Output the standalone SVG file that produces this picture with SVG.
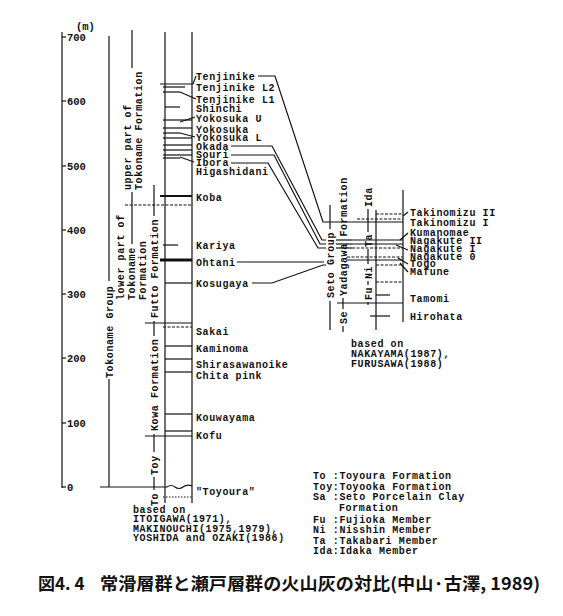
<svg xmlns="http://www.w3.org/2000/svg" width="563" height="616" viewBox="0 0 563 616">
<style>
.t{font-family:"Liberation Mono",monospace;font-size:10px;letter-spacing:0.6px;font-weight:bold;fill:#111}
.r{font-family:"Liberation Mono",monospace;font-size:10px;letter-spacing:0.6px;font-weight:bold;fill:#111}
.ax{font-family:"Liberation Mono",monospace;font-size:10.5px;font-weight:bold;fill:#111}
.l{stroke:#111;stroke-width:1.2;fill:none}
.th{stroke:#111;stroke-width:2;fill:none}
.d{stroke:#111;stroke-width:1.2;fill:none;stroke-dasharray:3 1.5}
.cap{font-family:"Noto Sans CJK JP","Noto Sans",sans-serif;font-size:17px;font-weight:bold;fill:#111}
</style>
<rect width="563" height="616" fill="#fff"/>

<g id="axis">
<line class="l" x1="62" y1="32" x2="62" y2="488"/>
<g class="l">
<line x1="62" y1="37" x2="66" y2="37"/><line x1="62" y1="101" x2="66" y2="101"/>
<line x1="62" y1="166" x2="66" y2="166"/><line x1="62" y1="230" x2="66" y2="230"/>
<line x1="62" y1="294" x2="66" y2="294"/><line x1="62" y1="358" x2="66" y2="358"/>
<line x1="62" y1="423" x2="66" y2="423"/><line x1="62" y1="487" x2="66" y2="487"/>
</g>
<text class="ax" x="76" y="30">(m)</text>
<text class="ax" x="67" y="41">700</text><text class="ax" x="67" y="105">600</text>
<text class="ax" x="67" y="170">500</text><text class="ax" x="67" y="234">400</text>
<text class="ax" x="67" y="298">300</text><text class="ax" x="67" y="362">200</text>
<text class="ax" x="67" y="427">100</text><text class="ax" x="67" y="491">0</text>
</g>

<g id="left-column">
<line class="l" x1="165" y1="32" x2="165" y2="503"/>
<line class="l" x1="192" y1="32" x2="192" y2="503"/>
<g class="l">
<line x1="160" y1="84" x2="193" y2="84"/>
<line x1="163" y1="87" x2="185" y2="87"/>
<line x1="163" y1="92" x2="180" y2="92"/>
<line x1="165" y1="107" x2="180" y2="107"/>
<line x1="163" y1="120" x2="192" y2="120"/>
<line x1="163" y1="128" x2="192" y2="128"/>
<line x1="163" y1="133" x2="180" y2="133"/>
<line x1="163" y1="138" x2="192" y2="138"/>
<line x1="163" y1="145" x2="192" y2="145"/>
<line x1="163" y1="150" x2="192" y2="150"/>
<line x1="163" y1="155" x2="192" y2="155"/>
<line x1="163" y1="158" x2="180" y2="158"/>
<line x1="163" y1="245" x2="178" y2="245"/>
<line x1="165" y1="283" x2="192" y2="283"/>
<line x1="165" y1="346" x2="192" y2="346"/>
<line x1="165" y1="359" x2="192" y2="359"/>
<line x1="165" y1="372" x2="192" y2="372"/>
<line x1="165" y1="414" x2="192" y2="414"/>
<line x1="165" y1="431" x2="192" y2="431"/>
<line x1="145" y1="323" x2="192" y2="323"/>
<line x1="145" y1="436" x2="192" y2="436"/>
<line x1="100" y1="487" x2="167" y2="487"/>
<path d="M167 487 q4 -3 8 0 t8 0 t9 -1"/>
</g>
<line class="th" x1="160" y1="196" x2="192" y2="196"/>
<line x1="160" y1="260" x2="192" y2="260" stroke="#111" stroke-width="3"/>
<line class="d" x1="125" y1="205" x2="192" y2="205"/>
<line class="d" x1="163" y1="327" x2="192" y2="327"/>
<line x1="163" y1="497" x2="192" y2="497" stroke="#111" stroke-width="1.2" stroke-dasharray="1.5 1.5"/>
</g>

<g id="formation-labels-left">
<g class="l">
<line x1="109" y1="36" x2="109" y2="281"/>
<line x1="109" y1="379" x2="109" y2="487"/>
<line x1="132" y1="30" x2="132" y2="68"/>
<line x1="132" y1="192" x2="132" y2="244"/>
<line x1="154" y1="185" x2="154" y2="216"/>
<line x1="154" y1="321" x2="154" y2="336"/>
<line x1="154" y1="434" x2="154" y2="452"/>
<line x1="154" y1="477" x2="154" y2="490"/>
</g>
<text class="r" transform="translate(113,378) rotate(-90)">Tokoname Group</text>
<text class="r" transform="translate(131,190) rotate(-90)">upper part of</text>
<text class="r" transform="translate(142,190) rotate(-90)">Tokoname Formation</text>
<text class="r" transform="translate(124,300) rotate(-90)">lower part of</text>
<text class="r" transform="translate(135,300) rotate(-90)">Tokoname</text>
<text class="r" transform="translate(146,300) rotate(-90)">Formation</text>
<text class="r" transform="translate(158,318) rotate(-90)">Futto Formation</text>
<text class="r" transform="translate(158,431) rotate(-90)">Kowa Formation</text>
<text class="r" transform="translate(158,475) rotate(-90)">Toy</text>
<text class="r" transform="translate(158,506) rotate(-90)">To</text>
</g>

<g id="left-labels">
<text class="t" x="196" y="80">Tenjinike</text>
<text class="t" x="196" y="91">Tenjinike L2</text>
<text class="t" x="196" y="103">Tenjinike L1</text>
<text class="t" x="196" y="112">Shinchi</text>
<text class="t" x="196" y="122">Yokosuka U</text>
<text class="t" x="196" y="133">Yokosuka</text>
<text class="t" x="196" y="141">Yokosuka L</text>
<text class="t" x="196" y="150">Okada</text>
<text class="t" x="196" y="158">Souri</text>
<text class="t" x="196" y="166">Ibora</text>
<text class="t" x="196" y="175">Higashidani</text>
<text class="t" x="196" y="201">Koba</text>
<text class="t" x="196" y="249">Kariya</text>
<text class="t" x="196" y="266">Ohtani</text>
<text class="t" x="196" y="287">Kosugaya</text>
<text class="t" x="196" y="335">Sakai</text>
<text class="t" x="196" y="352">Kaminoma</text>
<text class="t" x="196" y="368">Shirasawanoike</text>
<text class="t" x="196" y="379">Chita pink</text>
<text class="t" x="196" y="421">Kouwayama</text>
<text class="t" x="196" y="439">Kofu</text>
<text class="t" x="196" y="495">"Toyoura"</text>
<text class="t" x="133" y="513">based on</text>
<text class="t" x="133" y="522">ITOIGAWA(1971),</text>
<text class="t" x="133" y="532">MAKINOUCHI(1975,1979),</text>
<text class="t" x="133" y="541">YOSHIDA and OZAKI(1986)</text>
</g>

<g id="right-column">
<line class="l" x1="376" y1="210" x2="376" y2="330"/>
<line class="l" x1="403" y1="190" x2="403" y2="322"/>
<g class="l">
<line x1="357" y1="222" x2="403" y2="222"/>
<line x1="352" y1="240" x2="403" y2="240"/>
<line x1="352" y1="244" x2="403" y2="244"/>
<line x1="347" y1="260" x2="403" y2="260"/>
<line x1="376" y1="295" x2="390" y2="295"/>
<line x1="337" y1="303" x2="403" y2="303"/>
<line x1="370" y1="316" x2="390" y2="316"/>
</g>
<g class="d">
<line x1="376" y1="214" x2="403" y2="214"/>
<line x1="357" y1="219" x2="403" y2="219"/>
<line x1="352" y1="248" x2="403" y2="248"/>
<line x1="347" y1="257" x2="403" y2="257"/>
<line x1="376" y1="265" x2="403" y2="265"/>
<line x1="376" y1="282" x2="403" y2="282"/>
</g>
</g>

<g id="formation-labels-right">
<g class="l">
<line x1="330" y1="205" x2="330" y2="229"/>
<line x1="330" y1="301" x2="330" y2="330"/>
<line x1="343" y1="298" x2="343" y2="309"/>
<line x1="343" y1="326" x2="343" y2="332"/>
<line x1="368" y1="209" x2="368" y2="232"/>
<line x1="368" y1="249" x2="368" y2="264"/>
<line x1="368" y1="281" x2="368" y2="285"/>
<line x1="368" y1="302" x2="368" y2="305"/>
</g>
<text class="r" transform="translate(334,298) rotate(-90)">Seto Group</text>
<text class="r" transform="translate(347,296) rotate(-90)">Yadagawa Formation</text>
<text class="r" transform="translate(347,324) rotate(-90)">Se</text>
<text class="r" transform="translate(372,207) rotate(-90)">Ida</text>
<text class="r" transform="translate(372,247) rotate(-90)">Ta</text>
<text class="r" transform="translate(372,279) rotate(-90)">Ni</text>
<text class="r" transform="translate(372,300) rotate(-90)">Fu</text>
</g>

<g id="right-labels">
<text class="t" x="410" y="216">Takinomizu II</text>
<text class="t" x="410" y="226">Takinomizu I</text>
<text class="t" x="410" y="236">Kumanomae</text>
<text class="t" x="410" y="244">Nagakute II</text>
<text class="t" x="410" y="252">Nagakute I</text>
<text class="t" x="410" y="260">Nagakute 0</text>
<text class="t" x="410" y="267">Togo</text>
<text class="t" x="410" y="275">Mafune</text>
<text class="t" x="410" y="302">Tamomi</text>
<text class="t" x="410" y="320">Hirohata</text>
<text class="t" x="351" y="347">based on</text>
<text class="t" x="351" y="357">NAKAYAMA(1987),</text>
<text class="t" x="351" y="367">FURUSAWA(1988)</text>
</g>

<g id="legend">
<text class="t" x="313" y="479">To :Toyoura Formation</text>
<text class="t" x="313" y="490">Toy:Toyooka Formation</text>
<text class="t" x="313" y="500">Sa :Seto Porcelain Clay</text>
<text class="t" x="339" y="511">Formation</text>
<text class="t" x="313" y="523">Fu :Fujioka Member</text>
<text class="t" x="313" y="533">Ni :Nisshin Member</text>
<text class="t" x="313" y="544">Ta :Takabari Member</text>
<text class="t" x="313" y="554">Ida:Idaka Member</text>
</g>

<g id="connectors" class="l">
<polyline points="193,84 196,76"/>
<polyline points="180,92 196,99"/>
<polyline points="180,122 195,117"/>
<polyline points="180,133 195,137"/>
<polyline points="180,157 194,162"/>
<polyline points="258,76 275,76 323,222 357,222"/>
<polyline points="231,146 272,146 322,240 326,240"/>
<polyline points="231,155 274,155 320,244 326,244"/>
<polyline points="231,163 268,163 318,248 326,248"/>
<polyline points="237,262 324,262"/>
<polyline points="252,283 272,283 323,265 326,265"/>
<polyline points="336,240 352,240"/>
<polyline points="336,244 352,244"/>
<polyline points="336,248 352,248"/>
<polyline points="403,216 408,212"/>
<polyline points="400,240 408,233"/>
<polyline points="396,245 408,250"/>
<polyline points="398,258 408,264"/>
<polyline points="400,263 408,272"/>
</g>

<g id="caption">
<text class="cap" x="38" y="590">図4. 4</text>
<text class="cap" x="100" y="590" textLength="440" lengthAdjust="spacingAndGlyphs">常滑層群と瀬戸層群の火山灰の対比(中山·古澤, 1989)</text>
</g>
</svg>
